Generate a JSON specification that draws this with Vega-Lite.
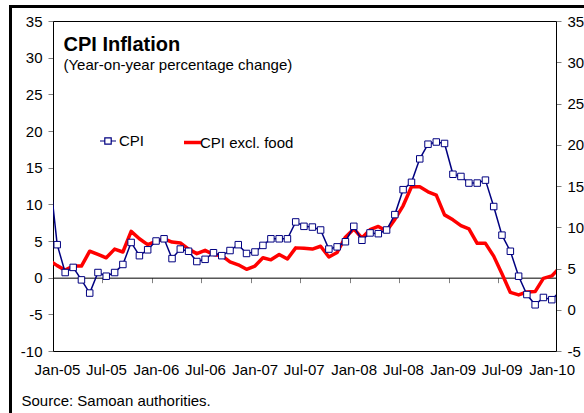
{
  "$schema": "https://vega.github.io/schema/vega-lite/v6.json",
  "width": 503,
  "height": 330,
  "autosize": {"type": "none"},
  "padding": {"left": 53, "top": 21, "right": 28, "bottom": 62},
  "background": "white",
  "config": {
    "font": "Liberation Sans",
    "view": {"stroke": "black", "strokeWidth": 1},
    "axis": {"labelFont": "Liberation Sans", "labelFontSize": 15, "labelColor": "black", "titleFont": "Liberation Sans", "titleColor": "black", "grid": false},
    "legend": {"labelFont": "Liberation Sans", "labelFontSize": 15, "labelColor": "black", "padding": 0, "labelOffset": 2}
  },
  "datasets": {
    "cpi": [
      {"month": "2004/12/01", "value": 15},
      {"month": "2005/01/01", "value": 4.5}, {"month": "2005/02/01", "value": 0.7}, {"month": "2005/03/01", "value": 1.4}, {"month": "2005/04/01", "value": -0.3}, {"month": "2005/05/01", "value": -2.1}, {"month": "2005/06/01", "value": 0.7}, {"month": "2005/07/01", "value": 0.2}, {"month": "2005/08/01", "value": 0.7}, {"month": "2005/09/01", "value": 1.8}, {"month": "2005/10/01", "value": 4.8}, {"month": "2005/11/01", "value": 3.0}, {"month": "2005/12/01", "value": 3.8},
      {"month": "2006/01/01", "value": 5.0}, {"month": "2006/02/01", "value": 5.3}, {"month": "2006/03/01", "value": 2.6}, {"month": "2006/04/01", "value": 3.9}, {"month": "2006/05/01", "value": 3.6}, {"month": "2006/06/01", "value": 2.2}, {"month": "2006/07/01", "value": 2.5}, {"month": "2006/08/01", "value": 3.4}, {"month": "2006/09/01", "value": 3.0}, {"month": "2006/10/01", "value": 3.7}, {"month": "2006/11/01", "value": 4.5}, {"month": "2006/12/01", "value": 3.3},
      {"month": "2007/01/01", "value": 3.5}, {"month": "2007/02/01", "value": 4.4}, {"month": "2007/03/01", "value": 5.3}, {"month": "2007/04/01", "value": 5.3}, {"month": "2007/05/01", "value": 5.3}, {"month": "2007/06/01", "value": 7.6}, {"month": "2007/07/01", "value": 7.0}, {"month": "2007/08/01", "value": 6.9}, {"month": "2007/09/01", "value": 6.5}, {"month": "2007/10/01", "value": 3.9}, {"month": "2007/11/01", "value": 4.2}, {"month": "2007/12/01", "value": 4.9},
      {"month": "2008/01/01", "value": 7.0}, {"month": "2008/02/01", "value": 5.1}, {"month": "2008/03/01", "value": 6.1}, {"month": "2008/04/01", "value": 6.0}, {"month": "2008/05/01", "value": 6.5}, {"month": "2008/06/01", "value": 8.6}, {"month": "2008/07/01", "value": 12.0}, {"month": "2008/08/01", "value": 13.0}, {"month": "2008/09/01", "value": 16.2}, {"month": "2008/10/01", "value": 18.2}, {"month": "2008/11/01", "value": 18.5}, {"month": "2008/12/01", "value": 18.3},
      {"month": "2009/01/01", "value": 14.1}, {"month": "2009/02/01", "value": 13.8}, {"month": "2009/03/01", "value": 12.9}, {"month": "2009/04/01", "value": 12.9}, {"month": "2009/05/01", "value": 13.3}, {"month": "2009/06/01", "value": 9.7}, {"month": "2009/07/01", "value": 5.8}, {"month": "2009/08/01", "value": 3.6}, {"month": "2009/09/01", "value": 0.2}, {"month": "2009/10/01", "value": -2.3}, {"month": "2009/11/01", "value": -3.7}, {"month": "2009/12/01", "value": -2.7},
      {"month": "2010/01/01", "value": -3.0}, {"month": "2010/02/01", "value": -1.9}
    ],
    "core": [
      {"month": "2004/12/01", "value": 6.0},
      {"month": "2005/01/01", "value": 5.35}, {"month": "2005/02/01", "value": 4.8}, {"month": "2005/03/01", "value": 5.3}, {"month": "2005/04/01", "value": 5.3}, {"month": "2005/05/01", "value": 7.1}, {"month": "2005/06/01", "value": 6.7}, {"month": "2005/07/01", "value": 6.3}, {"month": "2005/08/01", "value": 7.35}, {"month": "2005/09/01", "value": 7.0}, {"month": "2005/10/01", "value": 9.5}, {"month": "2005/11/01", "value": 8.6}, {"month": "2005/12/01", "value": 7.9},
      {"month": "2006/01/01", "value": 8.3}, {"month": "2006/02/01", "value": 8.6}, {"month": "2006/03/01", "value": 8.2}, {"month": "2006/04/01", "value": 8.1}, {"month": "2006/05/01", "value": 7.35}, {"month": "2006/06/01", "value": 6.8}, {"month": "2006/07/01", "value": 7.2}, {"month": "2006/08/01", "value": 6.7}, {"month": "2006/09/01", "value": 6.55}, {"month": "2006/10/01", "value": 5.8}, {"month": "2006/11/01", "value": 5.45}, {"month": "2006/12/01", "value": 4.9},
      {"month": "2007/01/01", "value": 5.3}, {"month": "2007/02/01", "value": 6.3}, {"month": "2007/03/01", "value": 6.05}, {"month": "2007/04/01", "value": 6.7}, {"month": "2007/05/01", "value": 6.15}, {"month": "2007/06/01", "value": 7.5}, {"month": "2007/07/01", "value": 7.45}, {"month": "2007/08/01", "value": 7.35}, {"month": "2007/09/01", "value": 7.7}, {"month": "2007/10/01", "value": 6.4}, {"month": "2007/11/01", "value": 6.95}, {"month": "2007/12/01", "value": 8.8},
      {"month": "2008/01/01", "value": 9.8}, {"month": "2008/02/01", "value": 8.7}, {"month": "2008/03/01", "value": 9.7}, {"month": "2008/04/01", "value": 10.1}, {"month": "2008/05/01", "value": 9.55}, {"month": "2008/06/01", "value": 10.95}, {"month": "2008/07/01", "value": 12.6}, {"month": "2008/08/01", "value": 14.9}, {"month": "2008/09/01", "value": 14.9}, {"month": "2008/10/01", "value": 14.3}, {"month": "2008/11/01", "value": 13.9}, {"month": "2008/12/01", "value": 11.5},
      {"month": "2009/01/01", "value": 10.9}, {"month": "2009/02/01", "value": 10.2}, {"month": "2009/03/01", "value": 9.8}, {"month": "2009/04/01", "value": 8.05}, {"month": "2009/05/01", "value": 8.05}, {"month": "2009/06/01", "value": 6.5}, {"month": "2009/07/01", "value": 4.35}, {"month": "2009/08/01", "value": 2.1}, {"month": "2009/09/01", "value": 1.8}, {"month": "2009/10/01", "value": 2.15}, {"month": "2009/11/01", "value": 2.2}, {"month": "2009/12/01", "value": 3.8},
      {"month": "2010/01/01", "value": 4.1}, {"month": "2010/02/01", "value": 5.1}
    ]
  },
  "layer": [
    {
      "data": {"name": "core"},
      "layer": [
        {
          "mark": {"type": "line", "strokeWidth": 3.5, "clip": true, "strokeJoin": "round"},
          "encoding": {
            "x": {
              "field": "month", "type": "temporal", "timeUnit": "yearmonth", "bandPosition": 0.5,
              "scale": {"domain": [{"year": 2005, "month": 1, "date": 1}, {"year": 2010, "month": 2, "date": 1}]},
              "axis": {
                "orient": "bottom", "domain": false, "ticks": false, "tickSize": 0, "labelPadding": 11, "labelOffset": 4,
                "format": "%b-%y", "formatType": "time", "labelFlush": false, "labelOverlap": false, "labelBound": false,
                "values": [{"year": 2005, "month": 1, "date": 1}, {"year": 2005, "month": 7, "date": 1}, {"year": 2006, "month": 1, "date": 1}, {"year": 2006, "month": 7, "date": 1}, {"year": 2007, "month": 1, "date": 1}, {"year": 2007, "month": 7, "date": 1}, {"year": 2008, "month": 1, "date": 1}, {"year": 2008, "month": 7, "date": 1}, {"year": 2009, "month": 1, "date": 1}, {"year": 2009, "month": 7, "date": 1}, {"year": 2010, "month": 1, "date": 1}],
                "title": "Source: Samoan authorities.", "titleFontSize": 15, "titleFontWeight": "normal", "titleX": -32, "titleY": 54.5, "titleAlign": "left", "titleBaseline": "alphabetic", "titleAngle": 0
              }
            },
            "y": {
              "field": "value", "type": "quantitative",
              "scale": {"domain": [-5, 35], "nice": false, "zero": false},
              "axis": {
                "orient": "right", "values": [-5, 0, 5, 10, 15, 20, 25, 30, 35], "tickSize": 5, "tickColor": "#808080", "domainColor": "black", "labelPadding": 6, "labelFlush": false, "labelOverlap": false,
                "labelExpr": "replace(datum.label, '\u2212', '-')",
                "title": "(Year-on-year percentage change)", "titleFontSize": 15, "titleFontWeight": "normal", "titleX": -493, "titleY": 48.3, "titleAlign": "left", "titleBaseline": "alphabetic", "titleAngle": 0
              }
            },
            "color": {
              "datum": "CPI excl. food", "type": "nominal",
              "scale": {"domain": ["CPI excl. food"], "range": ["#ff0000"]},
              "legend": {
                "orient": "none", "legendX": 129, "legendY": 111, "title": null, "labelOffset": -3,
                "symbolType": "stroke", "symbolSize": 289, "symbolStrokeWidth": 3.5
              }
            }
          }
        },
        {
          "mark": {"type": "rect", "fillOpacity": 0, "stroke": "black", "strokeWidth": 2.5, "clip": false},
          "encoding": {
            "x": {"datum": {"year": 2004, "month": 7, "date": 29}, "type": "temporal"},
            "x2": {"datum": {"year": 2011, "month": 1, "date": 1}},
            "y": {"datum": 36.8, "type": "quantitative"},
            "y2": {"datum": -14}
          }
        }
      ]
    },
    {
      "data": {"name": "cpi"},
      "layer": [
        {
          "mark": {"type": "line", "strokeWidth": 1.5, "clip": true},
          "encoding": {
            "x": {
              "field": "month", "type": "temporal", "timeUnit": "yearmonth", "bandPosition": 0.5,
              "axis": {
                "orient": "bottom", "offset": -73.33, "labels": false, "ticks": true, "tickSize": 5, "tickColor": "#808080", "domain": true, "domainColor": "black", "domainWidth": 1, "title": null,
                "values": [{"year": 2005, "month": 1, "date": 1}, {"year": 2005, "month": 7, "date": 1}, {"year": 2006, "month": 1, "date": 1}, {"year": 2006, "month": 7, "date": 1}, {"year": 2007, "month": 1, "date": 1}, {"year": 2007, "month": 7, "date": 1}, {"year": 2008, "month": 1, "date": 1}, {"year": 2008, "month": 7, "date": 1}, {"year": 2009, "month": 1, "date": 1}, {"year": 2009, "month": 7, "date": 1}]
              }
            },
            "y": {
              "field": "value", "type": "quantitative",
              "scale": {"domain": [-10, 35], "nice": false, "zero": false},
              "axis": {
                "orient": "left", "values": [-10, -5, 0, 5, 10, 15, 20, 25, 30, 35], "tickCount": 10, "tickSize": 5, "tickColor": "#808080", "domainColor": "black", "labelPadding": 6, "labelFlush": false, "labelOverlap": false,
                "labelExpr": "replace(datum.label, '\u2212', '-')",
                "title": "CPI Inflation", "titleFontSize": 20, "titleFontWeight": "bold", "titleX": 10, "titleY": 29.3, "titleAlign": "left", "titleBaseline": "alphabetic", "titleAngle": 0
              }
            },
            "stroke": {
              "datum": "CPI", "type": "nominal",
              "scale": {"domain": ["CPI"], "range": ["#000080"]},
              "legend": {
                "orient": "none", "legendX": 46, "legendY": 111, "title": null,
                "symbolType": "M-1,0H-0.4M0.4,0H1M-0.4,-0.4H0.4V0.4H-0.4Z", "symbolSize": 256, "symbolStrokeWidth": 1.2, "symbolFillColor": "white"
              }
            }
          }
        },
        {
          "mark": {"type": "point", "shape": "square", "size": 42, "filled": true, "fill": "white", "stroke": "#000080", "strokeWidth": 1, "opacity": 1, "clip": true},
          "encoding": {
            "x": {"field": "month", "type": "temporal", "timeUnit": "yearmonth", "bandPosition": 0.5},
            "y": {
              "field": "value", "type": "quantitative",
              "axis": {
                "orient": "left", "values": [-10, -5, 0, 5, 10, 15, 20, 25, 30, 35], "tickCount": 10, "tickSize": 5, "tickColor": "#808080", "domainColor": "black", "labelPadding": 6, "labelFlush": false, "labelOverlap": false,
                "labelExpr": "replace(datum.label, '\u2212', '-')",
                "title": "CPI Inflation", "titleFontSize": 20, "titleFontWeight": "bold", "titleX": 10, "titleY": 29.3, "titleAlign": "left", "titleBaseline": "alphabetic", "titleAngle": 0
              }
            }
          }
        }
      ]
    }
  ],
  "resolve": {"scale": {"y": "independent"}, "axis": {"x": "independent", "y": "independent"}}
}
